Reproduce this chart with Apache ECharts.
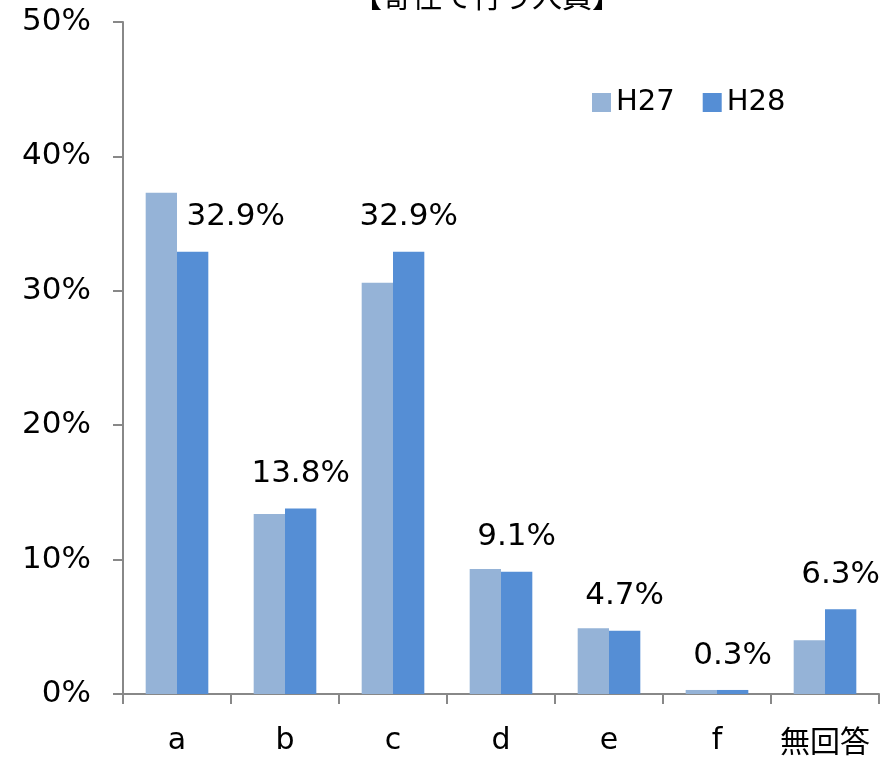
<!DOCTYPE html>
<html>
<head>
<meta charset="utf-8">
<script src="https://cdn.jsdelivr.net/npm/echarts@6/dist/echarts.min.js"></script>
<style>
  html, body { margin: 0; padding: 0; background: #fff; }
  #chart { width: 885px; height: 760px; }
</style>
</head>
<body>
<div id="chart"></div>
<script>
var titleText = "【寄住て行う人員】";
var categories = ["a", "b", "c", "d", "e", "f", "無回答"];
var seriesNames = ["H27", "H28"];
var h27 = [37.3, 13.4, 30.6, 9.3, 4.9, 0.3, 4.0];
var h28 = [32.9, 13.8, 32.9, 9.1, 4.7, 0.3, 6.3];
var yTicks = [0, 10, 20, 30, 40, 50];

var font = "DejaVu Sans";
var chartDom = document.getElementById("chart");
var myChart = echarts.init(chartDom);
var option;

option = {
  animation: false,
  textStyle: { fontFamily: font },
  title: {
    text: titleText,
    left: 482,
    top: -24,
    textAlign: "center",
    textStyle: { fontSize: 30, fontWeight: "normal", color: "#000", fontFamily: "Noto Sans CJK JP" },
  },
  legend: {
    data: seriesNames,
    left: 587,
    top: 83,
    itemWidth: 19,
    itemHeight: 19,
    itemGap: 28,
    itemTextGap: 9,
    icon: "rect",
    textStyle: { fontSize: 29, color: "#000", fontFamily: font },
  },
  grid: {
    left: 123,
    right: 6,
    top: 22,
    bottom: 66,
    containLabel: false,
  },
  xAxis: {
    type: "category",
    data: categories,
    axisLine: { lineStyle: { color: "#888", width: 2 } },
    axisTick: { show: true, interval: 0, length: 10, lineStyle: { color: "#888", width: 2 } },
    axisLabel: {
      interval: 0,
      fontSize: 30,
      color: "#000",
      margin: 32,
      fontFamily: font,
      formatter: function (v) {
        return v === "無回答" ? "{s|" + v + "}" : v;
      },
      rich: { s: { fontSize: 30, fontFamily: "Noto Sans CJK JP", color: "#000" } },
    },
  },
  yAxis: {
    type: "value",
    min: yTicks[0],
    max: yTicks[yTicks.length - 1],
    interval: yTicks[1] - yTicks[0],
    splitLine: { show: false },
    axisLine: { show: true, lineStyle: { color: "#888", width: 2 } },
    axisTick: { show: true, length: 10, lineStyle: { color: "#888", width: 2 } },
    axisLabel: {
      formatter: "{value}%",
      fontSize: 31,
      color: "#000",
      margin: 32,
      fontFamily: font,
    },
  },
  series: [
    {
      name: seriesNames[0],
      type: "bar",
      data: h27,
      barGap: "0%",
      barCategoryGap: "42%",
      itemStyle: { color: "#95B3D7" },
    },
    {
      name: seriesNames[1],
      type: "bar",
      data: h28.map(function (v, i) {
        if (i === 0) {
          return { value: v, label: { offset: [43, 0] } };
        }
        return v;
      }),
      barGap: "0%",
      barCategoryGap: "42%",
      itemStyle: { color: "#558ED5" },
      label: {
        show: true,
        position: "top",
        distance: 19,
        fontSize: 31,
        color: "#000",
        fontFamily: font,
        formatter: function (p) {
          return p.value.toFixed(1) + "%";
        },
      },
    },
  ],
};

myChart.setOption(option);
window.addEventListener("resize", function () {
  myChart.resize();
});
</script>
</body>
</html>
